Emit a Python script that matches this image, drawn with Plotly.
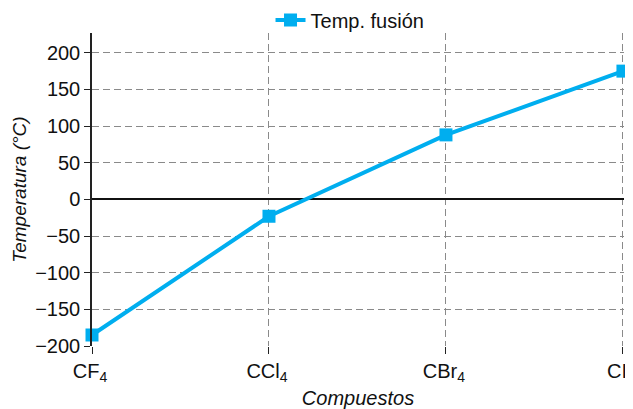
import plotly.graph_objects as go

compuestos = ["CF<sub>4</sub>", "CCl<sub>4</sub>", "CBr<sub>4</sub>", "CI<sub>4</sub>"]
temp_fusion = [-185, -23, 88, 175]
y_ticks = [-200, -150, -100, -50, 0, 50, 100, 150, 200]

font_fam = "Liberation Sans, Arial, sans-serif"
blue = "#00AEEF"

fig = go.Figure()
fig.add_trace(go.Scatter(
    x=list(range(len(compuestos))), y=temp_fusion, mode="lines+markers",
    name="Temp. fusión",
    line=dict(color=blue, width=4),
    marker=dict(symbol="square", size=13, color=blue),
    cliponaxis=False,
))

# page body has an 8px margin, so the figure is sized 8px smaller
fig.update_layout(
    width=625, height=401,
    margin=dict(l=84, r=9, t=25, b=63, autoexpand=False),
    paper_bgcolor="white", plot_bgcolor="white",
    font=dict(family=font_fam, size=20, color="#111"),
    showlegend=True,
    legend=dict(orientation="h", x=0.485, xanchor="center", yref="container",
                y=0.97, yanchor="middle",
                font=dict(size=20), bgcolor="rgba(0,0,0,0)"),
    xaxis=dict(
        range=[0, 3.006], tickmode="array", tickvals=list(range(len(compuestos))),
        ticktext=compuestos, ticklabeloverflow="allow", ticklabelshift=-2,
        showgrid=True, gridcolor="#8a8a8a", griddash="7px,4px", gridwidth=1,
        ticks="outside", ticklen=7, tickcolor="#222",
        showline=False, zeroline=False,
        title=dict(text="<i>Compuestos</i>", font=dict(size=20), standoff=8),
        tickfont=dict(size=20),
    ),
    yaxis=dict(
        range=[-200, 227], tickmode="array", tickvals=y_ticks,
        ticktext=[str(v).replace("-", "\u2212") for v in y_ticks],
        showgrid=True, gridcolor="#8a8a8a", griddash="7px,4px", gridwidth=1,
        ticks="outside", ticklen=6, tickcolor="#222",
        showline=True, linecolor="#222", linewidth=1.5,
        zeroline=True, zerolinecolor="#111", zerolinewidth=1.5,
        title=dict(text="<i>Temperatura (°C)</i>", font=dict(size=19), standoff=4),
        tickfont=dict(size=20),
    ),
)

fig.write_html("out.html")
